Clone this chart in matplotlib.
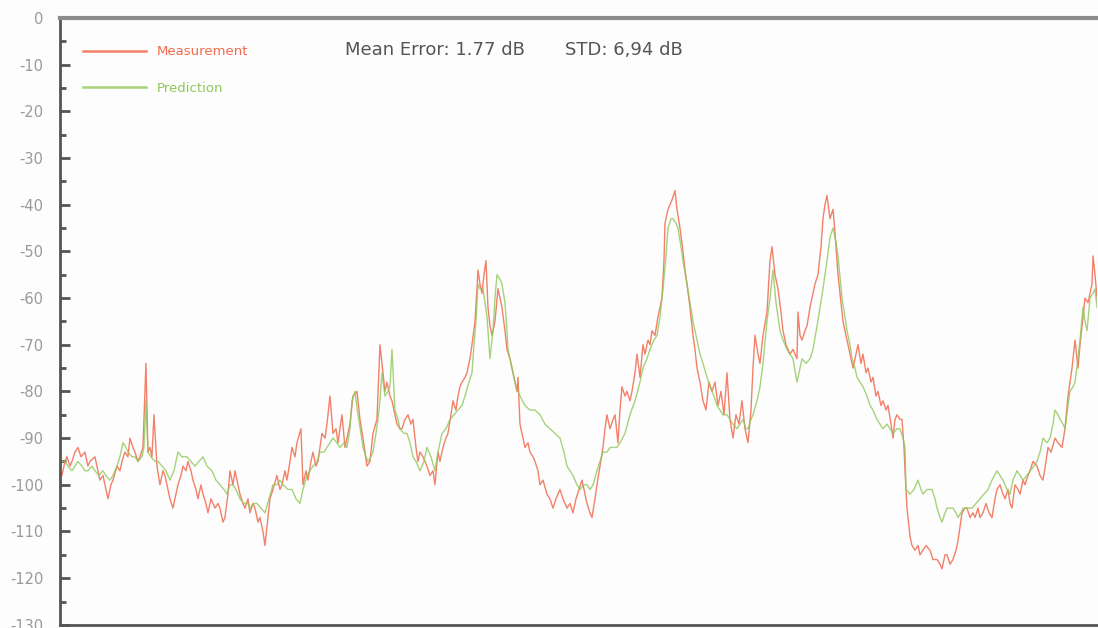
import matplotlib
matplotlib.use("Agg")
import matplotlib.pyplot as plt
from matplotlib.ticker import MultipleLocator

plt.rcParams["axes.unicode_minus"] = False

# frequency bin index and level (dB) for the measured trace
meas_bin = [0, 2, 5, 7, 10, 12, 15, 18, 21, 25, 28, 30, 35, 38, 40, 43, 45, 48, 51, 53, 57, 60, 62, 65, 68, 70,
            73, 75, 78, 80, 83, 86, 88, 90, 92, 94, 97, 100, 103, 105, 108, 110, 113, 116, 118, 121, 123, 126, 128,
            131, 133, 136, 138, 141, 143, 146, 148, 151, 155, 158, 160, 163, 165, 168, 170, 173, 175, 178, 180,
            183, 185, 188, 190, 193, 195, 198, 200, 203, 205, 207, 210, 213, 217, 220, 222, 225, 227, 230, 232,
            235, 237, 241, 243, 246, 248, 251, 253, 256, 258, 262, 265, 267, 270, 273, 276, 278, 282, 285, 288,
            290, 293, 297, 300, 303, 305, 307, 310, 313, 317, 320, 323, 325, 327, 330, 332, 335, 337, 340, 342,
            345, 348, 351, 353, 356, 358, 360, 363, 367, 370, 373, 375, 378, 380, 383, 386, 388, 391, 393, 396,
            398, 400, 402, 405, 407, 410, 412, 415, 417, 418, 420, 422, 424, 426, 428, 430, 432, 435, 438, 440,
            442, 445, 447, 450, 452, 455, 457, 458, 460, 463, 465, 468, 470, 473, 475, 478, 480, 483, 487, 490,
            493, 496, 500, 503, 507, 510, 513, 516, 519, 522, 525, 527, 530, 532, 535, 537, 540, 543, 545, 547,
            550, 553, 555, 558, 560, 562, 565, 567, 570, 572, 575, 577, 580, 583, 585, 588, 590, 592, 595, 598,
            600, 602, 604, 605, 608, 610, 612, 615, 617, 620, 623, 625, 627, 630, 633, 635, 637, 640, 643, 646,
            649, 652, 655, 658, 661, 664, 667, 670, 673, 676, 679, 682, 685, 688, 691, 693, 695, 698, 700, 703,
            707, 710, 712, 715, 718, 721, 723, 726, 730, 733, 737, 738, 740, 742, 745, 747, 750, 752, 755, 758,
            761, 763, 765, 767, 770, 773, 775, 778, 781, 783, 786, 788, 791, 793, 796, 798, 801, 803, 806, 808,
            811, 813, 816, 818, 821, 823, 826, 828, 831, 833, 835, 837, 840, 842, 844, 845, 847, 850, 852, 855,
            858, 860, 863, 866, 870, 873, 877, 880, 882, 885, 887, 890, 893, 896, 898, 900, 902, 905, 907, 910,
            913, 915, 918, 920, 923, 926, 929, 932, 935, 937, 940, 943, 945, 948, 950, 952, 955, 958, 960, 963,
            965, 968, 970, 973, 977, 980, 983, 986, 988, 991, 995, 998, 1002, 1005, 1008, 1010, 1012, 1015, 1018,
            1020, 1022, 1025, 1028, 1030, 1032, 1033, 1035, 1037]
meas_db = [-97, -98, -95, -94, -96, -95, -93, -92, -94, -93, -96, -95, -94, -97, -99, -98, -100, -103, -100, -99,
           -96, -97, -95, -93, -94, -90, -92, -93, -95, -94, -92, -74, -93, -92, -94, -85, -96, -100, -97, -98,
           -101, -103, -105, -102, -100, -98, -96, -97, -95, -97, -99, -101, -103, -100, -102, -104, -106, -103,
           -105, -104, -105, -108, -107, -102, -97, -100, -97, -100, -102, -104, -105, -103, -106, -104, -105,
           -108, -107, -110, -113, -109, -103, -101, -98, -101, -100, -97, -99, -95, -92, -94, -91, -88, -100,
           -97, -99, -95, -93, -96, -95, -89, -90, -87, -81, -89, -88, -91, -85, -92, -89, -87, -81, -80, -86,
           -90, -93, -96, -95, -89, -86, -70, -76, -80, -78, -81, -82, -85, -87, -88, -88, -86, -85, -87, -86,
           -92, -95, -93, -94, -96, -98, -97, -100, -93, -95, -92, -90, -89, -85, -82, -84, -81, -79, -78, -77,
           -76, -73, -70, -65, -58, -54, -57, -59, -55, -52, -62, -66, -68, -65, -58, -60, -62, -67, -71, -73,
           -75, -78, -80, -77, -87, -90, -92, -91, -93, -94, -95, -97, -100, -99, -102, -103, -105, -103, -101,
           -103, -105, -104, -106, -103, -101, -99, -102, -104, -106, -107, -103, -100, -96, -92, -88, -85, -88,
           -86, -85, -91, -84, -79, -81, -80, -82, -80, -76, -72, -77, -70, -72, -69, -70, -67, -68, -64, -62,
           -60, -52, -44, -41, -40, -39, -37, -41, -45, -50, -54, -57, -62, -68, -71, -75, -78, -82, -84, -78,
           -80, -78, -83, -80, -85, -76, -86, -90, -85, -87, -82, -88, -91, -84, -75, -68, -72, -74, -68, -63,
           -52, -49, -55, -58, -63, -67, -70, -72, -71, -73, -63, -68, -69, -67, -66, -62, -60, -57, -55, -49,
           -43, -40, -38, -43, -41, -46, -55, -61, -65, -68, -70, -73, -75, -72, -70, -74, -72, -76, -75, -78,
           -77, -81, -80, -83, -82, -84, -83, -87, -90, -86, -85, -86, -86, -92, -97, -105, -111, -113, -114,
           -113, -115, -114, -113, -114, -116, -116, -117, -118, -115, -115, -117, -116, -114, -112, -109, -106,
           -105, -105, -107, -106, -107, -105, -107, -106, -104, -106, -107, -103, -101, -100, -102, -103, -101,
           -104, -105, -100, -101, -102, -99, -100, -98, -97, -95, -96, -98, -99, -95, -92, -93, -90, -91, -92,
           -88, -81, -78, -75, -69, -75, -70, -66, -60, -61, -59, -57, -51, -55, -60]

# frequency bin index and level (dB) for the predicted trace
pred_bin = [0, 2, 5, 8, 12, 15, 18, 22, 25, 28, 32, 35, 39, 43, 46, 50, 53, 57, 60, 63, 66, 68, 72, 75, 78, 82,
            84, 86, 88, 91, 95, 98, 102, 106, 110, 114, 118, 122, 127, 131, 135, 139, 143, 147, 152, 156, 160,
            164, 167, 170, 173, 176, 180, 184, 188, 190, 194, 197, 201, 205, 209, 213, 217, 220, 223, 228, 232,
            236, 240, 243, 247, 250, 253, 257, 260, 264, 267, 270, 273, 277, 280, 284, 287, 290, 292, 295, 298,
            301, 303, 306, 308, 311, 313, 316, 318, 320, 322, 325, 328, 330, 332, 335, 338, 340, 344, 347, 350,
            353, 356, 360, 364, 367, 371, 375, 378, 382, 386, 390, 394, 398, 402, 405, 409, 412, 414, 416, 418,
            420, 423, 425, 427, 429, 430, 432, 433, 435, 437, 440, 442, 445, 447, 448, 451, 453, 456, 460, 465,
            470, 475, 480, 485, 490, 495, 500, 504, 507, 510, 513, 517, 520, 524, 527, 530, 533, 537, 540, 543,
            547, 550, 554, 557, 560, 565, 570, 575, 580, 583, 587, 590, 594, 597, 600, 603, 606, 608, 611, 613,
            616, 618, 621, 623, 627, 630, 633, 637, 640, 643, 647, 650, 654, 657, 660, 663, 667, 670, 673, 677,
            680, 683, 686, 688, 691, 693, 697, 700, 703, 707, 710, 713, 716, 720, 723, 727, 730, 733, 737, 740,
            742, 746, 750, 753, 757, 760, 763, 767, 770, 773, 776, 778, 782, 785, 787, 790, 792, 795, 797, 800,
            803, 807, 810, 813, 817, 820, 823, 827, 830, 833, 837, 840, 843, 845, 846, 850, 854, 858, 861, 863,
            867, 872, 875, 877, 880, 882, 885, 887, 890, 893, 896, 898, 901, 903, 907, 912, 916, 920, 924, 928,
            932, 937, 940, 943, 947, 950, 953, 957, 960, 963, 967, 970, 974, 977, 980, 983, 987, 990, 993, 995,
            998, 1000, 1003, 1005, 1008, 1010, 1013, 1015, 1018, 1020, 1023, 1025, 1027, 1030, 1033, 1035,
            1037]
pred_db = [-94, -95, -95, -96, -97, -96, -95, -96, -97, -97, -96, -97, -98, -97, -98, -99, -98, -96, -94, -91,
           -92, -93, -94, -94, -95, -94, -92, -82, -93, -94, -95, -95, -96, -97, -99, -97, -93, -94, -94, -95,
           -96, -95, -94, -96, -97, -99, -100, -101, -102, -100, -100, -101, -103, -104, -104, -105, -104, -104,
           -105, -106, -103, -100, -100, -99, -100, -101, -101, -103, -104, -101, -98, -97, -96, -95, -93, -93,
           -92, -91, -90, -91, -92, -91, -92, -88, -82, -80, -85, -89, -92, -94, -95, -94, -93, -89, -86, -82,
           -76, -81, -80, -79, -71, -84, -86, -88, -89, -89, -91, -94, -95, -97, -95, -92, -94, -97, -93, -89,
           -88, -86, -85, -84, -83, -81, -78, -76, -70, -65, -57, -58, -58, -61, -64, -70, -73, -69, -67, -60,
           -55, -56, -57, -61, -67, -71, -74, -76, -79, -81, -83, -84, -84, -85, -87, -88, -89, -90, -93, -96,
           -97, -98, -100, -101, -100, -100, -101, -100, -97, -95, -93, -93, -92, -92, -92, -91, -89, -85, -82,
           -78, -75, -73, -71, -69, -68, -64, -58, -51, -45, -43, -43, -44, -45, -49, -52, -57, -61, -65, -69,
           -72, -74, -77, -79, -81, -83, -84, -85, -85, -86, -87, -88, -87, -86, -88, -88, -86, -85, -82, -79,
           -74, -65, -60, -54, -61, -67, -69, -71, -72, -73, -78, -75, -73, -74, -73, -71, -66, -62, -58, -52,
           -47, -45, -48, -51, -60, -64, -67, -70, -73, -75, -77, -78, -79, -81, -83, -84, -86, -87, -88, -87,
           -88, -89, -88, -88, -90, -92, -101, -102, -101, -99, -101, -102, -101, -101, -103, -105, -107, -108,
           -106, -105, -105, -105, -106, -107, -106, -105, -105, -105, -104, -103, -102, -101, -99, -97, -98,
           -99, -101, -102, -99, -97, -98, -99, -98, -97, -96, -95, -93, -90, -91, -90, -87, -84, -85, -86, -87,
           -88, -83, -80, -79, -78, -73, -69, -62, -65, -67, -60, -59, -58, -62]

y_ticks = list(range(0, -140, -10))
mean_error = "1.77"
std_text = "6,94"

fig = plt.figure(figsize=(10.98, 6.28), dpi=100, facecolor="#fdfdfd")
ax = fig.add_axes([0.0546, 0.005, 0.9445, 0.9665], facecolor="#fdfdfd")

line_m, = ax.plot(meas_bin, meas_db, color="#f26a4f", lw=1.0, alpha=0.85, label="Measurement")
line_p, = ax.plot(pred_bin, pred_db, color="#8fc85a", lw=1.0, alpha=0.8, label="Prediction")

ax.set_xlim(0, 1037)
ax.set_ylim(-130, 0)
ax.set_yticks(y_ticks)
ax.set_yticklabels([str(v) for v in y_ticks])
ax.yaxis.set_minor_locator(MultipleLocator(5))
ax.set_xticks([])
ax.tick_params(axis="y", which="major", direction="in", length=7, width=2, color="#555555",
               labelcolor="#9a9a9a", labelsize=10.5, pad=12)
ax.tick_params(axis="y", which="minor", direction="in", length=4, width=2, color="#555555")

for side in ("left", "bottom"):
    ax.spines[side].set_color("#555555")
    ax.spines[side].set_linewidth(2)
ax.spines["top"].set_color("#8c8c8c")
ax.spines["top"].set_linewidth(3)
ax.spines["right"].set_visible(False)

leg = ax.legend(handles=[line_m, line_p], loc="upper left", bbox_to_anchor=(0.013, 0.97),
                frameon=False, fontsize=9.5, handlelength=4.8, handletextpad=0.8, labelspacing=1.8,
                borderpad=0.2)
for txt, ln in zip(leg.get_texts(), [line_m, line_p]):
    txt.set_color(ln.get_color())
for h in leg.legend_handles:
    h.set_linewidth(1.8)

ax.text(0.275, 0.947, f"Mean Error: {mean_error} dB", transform=ax.transAxes, fontsize=13,
        color="#555555", va="center")
ax.text(0.487, 0.947, f"STD: {std_text} dB", transform=ax.transAxes, fontsize=13,
        color="#555555", va="center")

fig.savefig("out.png", dpi=100, facecolor=fig.get_facecolor())
